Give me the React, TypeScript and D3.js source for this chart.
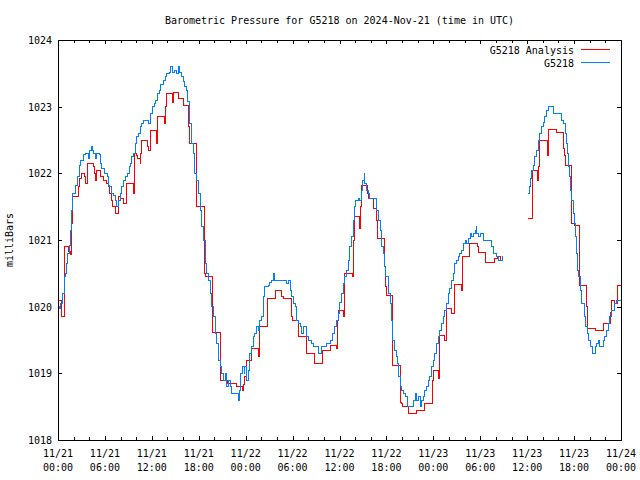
import React from "react";
import * as d3 from "d3";

// hours since 2024-11-21 00:00 UTC
const obsTimes: number[] = [
  0, 0.13, 0.38, 0.55, 0.77, 0.9, 1.11, 1.19, 1.53, 1.62, 1.79, 1.83, 2.3, 2.47, 2.72, 2.9, 3.24, 3.5, 3.96, 4.09,
  4.31, 4.44, 4.6, 4.82, 4.95, 5.37, 5.46, 5.59, 6.01, 6.31, 6.43, 6.65, 6.78, 7.07, 7.29, 7.51, 7.71, 8.02, 8.15, 8.35,
  8.57, 8.86, 9.08, 9.21, 9.43, 9.63, 9.85, 10.06, 10.27, 10.49, 10.7, 10.91, 11.55, 11.89, 12.11, 12.28, 12.53, 12.7, 12.92, 13.17,
  13.47, 13.77, 13.9, 14.2, 14.45, 14.67, 14.96, 15.18, 15.38, 15.6, 15.82, 16.02, 16.24, 16.46, 16.59, 16.79, 16.88, 17.1, 17.3, 17.52,
  17.74, 17.94, 18.16, 18.38, 18.58, 18.8, 19.02, 19.22, 19.44, 19.66, 19.86, 20.08, 20.3, 20.5, 20.72, 20.94, 21.14, 21.36, 21.57, 21.78,
  22.0, 22.21, 23.06, 23.19, 23.4, 23.62, 23.79, 23.91, 24.13, 24.34, 24.55, 24.77, 24.98, 25.19, 25.41, 25.62, 25.83, 26.05, 26.26, 26.47,
  26.9, 27.11, 27.33, 27.53, 27.75, 29.25, 29.45, 29.67, 29.89, 30.09, 30.31, 30.53, 30.73, 30.95, 31.17, 31.37, 31.81, 32.01, 32.45, 32.65,
  33.29, 33.72, 34.36, 34.79, 35.13, 35.42, 35.64, 35.85, 36.06, 36.28, 36.49, 36.7, 36.92, 37.12, 37.34, 37.56, 37.76, 37.89, 38.11, 38.37,
  38.62, 38.84, 38.97, 39.17, 39.26, 39.48, 39.68, 39.9, 40.76, 40.96, 41.18, 41.4, 41.6, 41.73, 41.91, 42.24, 42.46, 42.68, 42.8, 42.97,
  43.23, 43.39, 43.57, 43.74, 43.96, 44.16, 44.5, 44.67, 45.44, 45.66, 45.87, 46.08, 46.3, 46.51, 46.72, 46.93, 47.15, 47.36, 47.57, 47.79,
  48.0, 48.21, 48.43, 48.64, 48.85, 49.07, 49.27, 49.49, 49.71, 49.91, 50.13, 50.35, 50.55, 50.77, 50.99, 51.19, 51.41, 51.63, 51.83, 52.05,
  52.27, 52.47, 52.69, 52.91, 53.11, 53.33, 53.46, 53.55, 53.75, 53.97, 54.39, 55.46, 55.67, 56.1, 56.31, 56.87, 56.95, 58.0,
  60.14, 60.27, 60.45, 60.58, 60.78, 61.0, 61.22, 61.42, 61.64, 61.86, 62.06, 62.28, 62.5, 62.7, 63.43, 64.42, 64.62, 64.84, 65.06, 65.19,
  65.26, 65.39, 65.48, 65.7, 65.9, 66.03, 66.12, 66.34, 66.46, 66.54, 66.76, 66.97, 67.31, 67.52, 67.69, 67.82, 68.04, 68.38, 68.68, 68.9,
  69.1, 69.31, 69.74, 69.95, 70.17, 70.38, 70.59, 70.81, 71.23, 71.45, 72.0,
];
const obsValues: (number | null)[] = [
  1020.0, 1019.98, 1020.05, 1020.2, 1020.45, 1020.5, 1020.65, 1020.8, 1020.92, 1021.15, 1021.45, 1021.7, 1021.82, 1021.95, 1022.12, 1022.2, 1022.28, 1022.3, 1022.22, 1022.35,
  1022.4, 1022.35, 1022.3, 1022.22, 1022.3, 1022.28, 1022.15, 1022.08, 1022.0, 1021.95, 1021.82, 1021.8, 1021.7, 1021.67, 1021.6, 1021.5, 1021.6, 1021.7, 1021.8, 1021.9,
  1021.95, 1022.0, 1022.1, 1022.15, 1022.25, 1022.3, 1022.45, 1022.55, 1022.6, 1022.7, 1022.75, 1022.8, 1022.75, 1022.9, 1023.0, 1023.05, 1023.1, 1023.2, 1023.25, 1023.33,
  1023.4, 1023.45, 1023.5, 1023.52, 1023.6, 1023.52, 1023.55, 1023.5, 1023.6, 1023.52, 1023.45, 1023.38, 1023.3, 1023.25, 1023.08, 1022.85, 1022.75, 1022.45, 1022.3, 1022.0,
  1021.9, 1021.7, 1021.45, 1021.2, 1021.0, 1020.65, 1020.5, 1020.4, 1020.2, 1020.0, 1019.85, 1019.6, 1019.45, 1019.2, 1019.1, 1019.0, 1018.9, 1019.0, 1018.8, 1018.9,
  1018.8, 1018.7, 1018.6, 1018.75, 1019.0, 1019.1, 1019.0, 1019.1, 1018.9, 1019.05, 1019.3, 1019.4, 1019.55, 1019.6, 1019.7, 1019.65, 1019.8, 1019.85, 1020.15, 1020.3,
  1020.32, 1020.37, 1020.4, 1020.5, 1020.4, 1020.35, 1020.4, 1020.25, 1020.15, 1020.05, 1020.0, 1019.8, 1019.75, 1019.7, 1019.6, 1019.7, 1019.55, 1019.5, 1019.45, 1019.4,
  1019.3, 1019.4, 1019.45, 1019.5, 1019.6, 1019.7, 1019.8, 1019.9, 1020.07, 1020.2, 1020.35, 1020.45, 1020.55, 1020.7, 1020.9, 1021.05, 1021.3, 1021.5, 1021.6, 1021.63,
  1021.6, 1021.75, 1021.9, 1022.0, 1021.85, 1021.75, 1021.7, 1021.63, 1021.45, 1021.3, 1021.15, 1020.9, 1020.8, 1020.6, 1020.45, 1020.2, 1020.05, 1019.8, 1019.5, 1019.35,
  1019.25, 1019.15, 1018.95, 1018.8, 1018.75, 1018.7, 1018.65, 1018.5, 1018.6, 1018.7, 1018.6, 1018.65, 1018.5, 1018.6, 1018.65, 1018.75, 1018.8, 1018.9, 1018.95, 1019.1,
  1019.2, 1019.3, 1019.45, 1019.55, 1019.65, 1019.75, 1019.85, 1019.95, 1020.05, 1020.2, 1020.28, 1020.4, 1020.5, 1020.65, 1020.7, 1020.75, 1020.8, 1020.85, 1020.95, 1021.0,
  1020.95, 1021.02, 1021.1, 1021.05, 1021.1, 1021.15, 1021.2, 1021.1, 1021.05, 1021.1, 1021.0, 1020.9, 1020.8, 1020.75, 1020.7, 1020.75, 1020.75, null,
  1021.7, 1021.8, 1021.92, 1022.05, 1022.12, 1022.25, 1022.35, 1022.5, 1022.6, 1022.7, 1022.77, 1022.85, 1022.95, 1023.0, 1022.9, 1022.8, 1022.75, 1022.6, 1022.45, 1022.3,
  1022.1, 1021.95, 1021.75, 1021.6, 1021.4, 1021.25, 1021.05, 1020.8, 1020.55, 1020.45, 1020.25, 1020.05, 1019.85, 1019.7, 1019.6, 1019.5, 1019.4, 1019.3, 1019.4, 1019.45,
  1019.5, 1019.4, 1019.5, 1019.55, 1019.65, 1019.75, 1019.85, 1019.95, 1020.05, 1020.1, 1020.1,
];

const analysisTimes: number[] = [
  0, 0.51, 0.77, 1.32, 1.57, 1.7, 1.83, 2.6, 2.81, 3.03, 3.45, 3.58, 3.75, 4.51, 4.73, 4.82, 4.95, 5.46, 5.79, 6.23,
  6.43, 6.65, 6.87, 6.94, 7.29, 7.8, 7.93, 8.35, 8.79, 9.63, 9.72, 9.98, 10.14, 10.49, 10.58, 10.7, 11.47, 11.6, 11.77, 12.62,
  12.72, 13.65, 13.81, 13.9, 14.67, 14.83, 15.47, 16.11, 16.63, 16.71, 16.79, 17.74, 18.71, 18.86, 19.73, 20.81, 21.7, 22.85, 23.62, 23.7,
  23.82, 24.13, 24.77, 25.58, 25.83, 26.82, 27.84, 28.52, 28.81, 29.8, 29.96, 30.78, 31.81, 32.78, 33.85, 34.82, 35.59, 35.72, 35.85, 36.49,
  36.7, 37.6, 37.76, 37.89, 37.98, 38.53, 38.62, 38.71, 38.79, 39.64, 39.73, 40.32, 40.76, 40.83, 41.73, 41.88, 42.04, 42.8, 43.74, 43.96,
  44.08, 44.8, 45.82, 46.81, 47.83, 48.0, 48.6, 48.73, 49.49, 49.71, 50.35, 50.77, 51.63, 51.7, 52.65, 53.67, 53.8, 54.67, 55.76, 56.18,
  56.65, 56.95, 58.0,
  60.14, 60.65, 60.71, 61.3, 61.39, 61.56, 61.64, 62.58, 62.7, 63.69, 64.62, 64.75, 64.93, 65.65, 65.7, 65.99, 66.63, 67.61, 67.74, 68.68,
  69.74, 70.72, 70.81, 71.23, 71.61, 72.0,
];
const analysisValues: (number | null)[] = [
  1020.1, 1019.85, 1020.9, 1020.83, 1020.78, 1021.25, 1021.65, 1021.8, 1021.92, 1022.0, 1021.95, 1021.85, 1022.15, 1022.1, 1022.0, 1021.9, 1022.05, 1021.95, 1021.9, 1021.85,
  1021.8, 1021.7, 1021.6, 1021.5, 1021.4, 1021.65, 1021.62, 1021.55, 1021.85, 1021.7, 1022.3, 1022.27, 1022.22, 1022.15, 1022.3, 1022.5, 1022.4, 1022.35, 1022.65, 1022.45,
  1022.85, 1022.75, 1023.0, 1023.2, 1023.07, 1023.22, 1023.12, 1023.02, 1022.85, 1022.7, 1022.45, 1021.5, 1020.5, 1020.45, 1019.62, 1018.9, 1018.85, 1018.8, 1018.75, 1018.83,
  1018.95, 1019.2, 1019.38, 1019.25, 1019.7, 1020.12, 1020.25, 1020.15, 1020.12, 1019.85, 1019.8, 1019.55, 1019.3, 1019.15, 1019.35, 1019.42, 1019.37, 1019.8, 1019.95, 1019.85,
  1020.5, 1020.45, 1021.0, 1021.3, 1021.35, 1021.25, 1021.17, 1021.5, 1021.82, 1021.7, 1021.62, 1021.47, 1021.3, 1021.02, 1020.6, 1020.3, 1020.17, 1019.12, 1018.57, 1018.55,
  1018.5, 1018.4, 1018.45, 1018.55, 1018.9, 1019.05, 1018.92, 1019.57, 1019.5, 1019.97, 1019.9, 1020.33, 1020.25, 1020.75, 1020.95, 1020.9, 1020.82, 1020.67, 1020.72, 1020.75,
  1020.7, 1020.7, null,
  1021.33, 1021.5, 1022.05, 1021.9, 1022.1, 1022.38, 1022.5, 1022.27, 1022.66, 1022.62, 1022.38, 1022.27, 1022.12, 1021.7, 1021.25, 1021.22, 1020.32, 1020.0, 1019.67, 1019.64,
  1019.75, 1019.92, 1020.1, 1020.05, 1020.32, 1020.32,
];

const yTicks: number[] = [1018, 1019, 1020, 1021, 1022, 1023, 1024];
const xTickHours: number[] = [0, 6, 12, 18, 24, 30, 36, 42, 48, 54, 60, 66, 72];
const xTickDates: string[] = ["11/21", "11/21", "11/21", "11/21", "11/22", "11/22", "11/22", "11/22", "11/23", "11/23", "11/23", "11/23", "11/24"];
const xTickTimes: string[] = ["00:00", "06:00", "12:00", "18:00", "00:00", "06:00", "12:00", "18:00", "00:00", "06:00", "12:00", "18:00", "00:00"];

const title = "Barometric Pressure for G5218 on 2024-Nov-21 (time in UTC)";
const seriesNames = ["G5218 Analysis", "G5218"];
const seriesColors = ["#ff0000", "#0080ff"];

const FONT = "'DejaVu Sans Mono', 'Liberation Mono', monospace";

export default function App() {
  const W = 640, H = 480;
  const left = 58, right = 621, top = 40, bottom = 440;
  const x = d3.scaleLinear().domain([0, 72]).range([left, right]);
  const y = d3.scaleLinear().domain([1018, 1024]).range([bottom, top]);

  type P = { t: number; v: number | null };
  const obs: P[] = obsTimes.map((t, i) => ({ t, v: obsValues[i] }));
  const ana: P[] = analysisTimes.map((t, i) => ({ t, v: analysisValues[i] }));

  const line = d3
    .line<P>()
    .defined((d) => d.v != null)
    .x((d) => x(d.t))
    .y((d) => y(d.v as number))
    .curve(d3.curveStepAfter);

  const minorHours = d3.range(0, 73, 2);

  return (
    <svg width={W} height={H} style={{ position: "absolute", left: 0, top: 0, background: "#fff" }} fontFamily={FONT} fontSize={10}>
      <rect x={0} y={0} width={W} height={H} fill="#fff" />
      <text x={339.5} y={24} textAnchor="middle" fill="#000">{title}</text>

      {/* ticks */}
      <g stroke="#000" strokeWidth={1} shapeRendering="crispEdges">
        {minorHours.map((h) => {
          const major = h % 6 === 0;
          const len = major ? 4 : 3;
          const xx = Math.round(x(h)) + 0.5;
          return (
            <g key={"xt" + h}>
              <line x1={xx} x2={xx} y1={bottom} y2={bottom - len} />
              <line x1={xx} x2={xx} y1={top} y2={top + len} />
            </g>
          );
        })}
        {yTicks.map((v) => {
          const yy = Math.round(y(v)) + 0.5;
          return (
            <g key={"yt" + v}>
              <line x1={left} x2={left + 4} y1={yy} y2={yy} />
              <line x1={right} x2={right - 4} y1={yy} y2={yy} />
            </g>
          );
        })}
      </g>

      {/* y tick labels */}
      {yTicks.map((v) => (
        <text key={"yl" + v} x={52} y={y(v) + 4} textAnchor="end" fill="#000">{String(v)}</text>
      ))}
      {/* x tick labels */}
      {xTickHours.map((h, i) => (
        <g key={"xl" + h}>
          <text x={x(h)} y={457} textAnchor="middle" fill="#000">{xTickDates[i]}</text>
          <text x={x(h)} y={471} textAnchor="middle" fill="#000">{xTickTimes[i]}</text>
        </g>
      ))}

      <text transform={`translate(13,240) rotate(-90)`} textAnchor="middle" fill="#000">milliBars</text>

      {/* series */}
      <path d={line(ana) || ""} fill="none" stroke={seriesColors[0]} strokeWidth={1} shapeRendering="crispEdges" />
      <path d={line(obs) || ""} fill="none" stroke={seriesColors[1]} strokeWidth={1} shapeRendering="crispEdges" />

      {/* legend */}
      {seriesNames.map((n, i) => (
        <g key={n}>
          <text x={574} y={53.5 + i * 13} textAnchor="end" fill="#000">{n}</text>
          <line x1={581} x2={610} y1={49.5 + i * 13} y2={49.5 + i * 13} stroke={seriesColors[i]} strokeWidth={1} shapeRendering="crispEdges" />
        </g>
      ))}

      {/* frame */}
      <rect x={left + 0.5} y={top + 0.5} width={right - left} height={bottom - top - 0.5} fill="none" stroke="#000" strokeWidth={1} shapeRendering="crispEdges" />
    </svg>
  );
}
